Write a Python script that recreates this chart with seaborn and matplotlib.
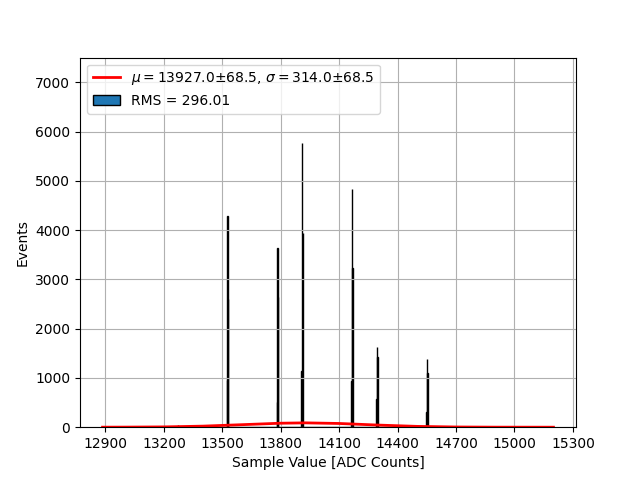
import numpy as np
import pandas as pd
import matplotlib
matplotlib.use("Agg")
import matplotlib.pyplot as plt
import seaborn as sns

# ADC sample values (bin positions) and how many events each holds
adc_values = [12886, 13145, 13273,
              13524, 13526.5, 13529,
              13781, 13783.5, 13786,
              13908, 13910.5, 13913,
              14164, 14166.5, 14169,
              14292, 14294.5, 14297,
              14549, 14551.5, 14554,
              15199]
adc_counts = [10, 25, 40,
              960, 4290, 2600,
              510, 3640, 2650,
              1140, 5770, 3950,
              940, 4840, 3240,
              570, 1630, 1420,
              305, 1385, 1100,
              2]

# gaussian fit curve
fit_x = [12885, 13000, 13200, 13400, 13600, 13800, 13927, 14100, 14300, 14500, 14700, 14900, 15200]
fit_y = [0.4, 1.5, 6, 21.5, 51, 81, 88, 75.6, 43, 16.6, 4.2, 0.7, 0.0]

fit_label = r"$\mu = 13927.0$±68.5, $\sigma = 314.0$±68.5"
rms_label = "RMS = 296.01"

df = pd.DataFrame({"adc": adc_values, "events": adc_counts})

fig, ax = plt.subplots(figsize=(6.4, 4.8), dpi=100)

sns.histplot(data=df, x="adc", weights="events", bins=1000, binrange=(12885, 15200),
             color="C0", edgecolor="black", linewidth=1, alpha=1, ax=ax)
line = sns.lineplot(x=fit_x, y=fit_y, color="red", linewidth=2, ax=ax)

ax.set_ylim(0, max(adc_counts) * 1.3)
ax.set_xticks(np.arange(12900, 15301, 300))
ax.set_xlabel("Sample Value [ADC Counts]")
ax.set_ylabel("Events")
ax.grid(True)

handles = [ax.lines[0], plt.Rectangle((0, 0), 1, 1, facecolor="C0", edgecolor="black")]
ax.legend(handles, [fit_label, rms_label], loc="upper left")

fig.savefig("out.png", dpi=100)
